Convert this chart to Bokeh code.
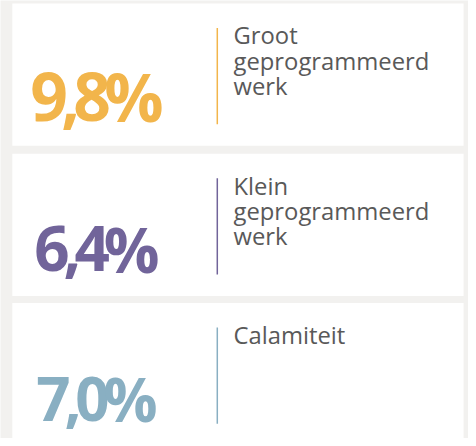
from bokeh.plotting import figure
from bokeh.models import Range1d, ColumnDataSource
from bokeh.core.properties import value
from bokeh.embed import file_html
from bokeh.resources import INLINE

# ---- data ----
values = [9.8, 6.4, 7.0]
labels = [["Groot", "geprogrammeerd", "werk"],
          ["Klein", "geprogrammeerd", "werk"],
          ["Calamiteit"]]
colors = ["#F2B54B", "#71649A", "#89AFC2"]

# ---- style / layout (reference pixel space 476 x 446) ----
REF_W, REF_H = 476, 446
FIG_W, FIG_H = 468, 438
SX = FIG_W / REF_W
SY = REF_H / FIG_H          # data units per screen px (vertical)
BG = "#F2F1EF"
TEXT_COLOR = "#595959"
value_sizes = [67, 63, 61]
card_tops = [3, 156, 308]
CARD_H = 145
CARD_L, CARD_R = 12, 471
NUM_CENTER = 98
NUM_BASE = 120
LINE_X = 220.5
LABEL_X = 237
LABEL_BASE = 41.5
LABEL_LH = 25.8
LABEL_SIZE = 24.2
BASE_SHIFT = 0.37           # text anchor sits this many em above the baseline
# approximate Open Sans Bold advance widths (em) and tight tracking
ADV = {",": 0.28, "%": 0.9}
DIGIT_ADV = 0.572
TRACK = -0.1

p = figure(width=FIG_W, height=FIG_H, x_range=Range1d(0, REF_W), y_range=Range1d(REF_H, 0),
           output_backend="svg", toolbar_location=None, min_border=0,
           x_axis_type=None, y_axis_type=None)
p.grid.visible = False
p.outline_line_color = None
p.background_fill_color = BG
p.border_fill_color = BG

# cards
p.quad(left=[CARD_L] * 3, right=[CARD_R] * 3,
       top=card_tops, bottom=[t + CARD_H for t in card_tops],
       fill_color="white", line_color=None)

# separator lines
p.segment(x0=[LINE_X] * 3, x1=[LINE_X] * 3,
          y0=[t + 25 for t in card_tops], y1=[t + 123 for t in card_tops],
          line_color=colors, line_width=1.5)

# big numbers, drawn char by char for tight tracking
cx, cy, ct, cc, cs = [], [], [], [], []
for v, col, size, top in zip(values, colors, value_sizes, card_tops):
    s = f"{v:.1f}".replace(".", ",") + "%"
    px = size * SX
    advs = [ADV.get(ch, DIGIT_ADV) * size for ch in s]
    total = sum(advs) + TRACK * size * (len(s) - 1)
    x = NUM_CENTER - total / 2
    for ch, a in zip(s, advs):
        cx.append(x)
        cy.append(top + NUM_BASE - BASE_SHIFT * px * SY)
        ct.append(ch)
        cc.append(col)
        cs.append(f"{px:.1f}px")
        x += a + TRACK * size
src = ColumnDataSource(dict(x=cx, y=cy, text=ct, color=cc, size=cs))
p.text(x="x", y="y", text="text", source=src, text_color="color",
       text_font_size="size", text_font=value("Open Sans"), text_font_style="bold",
       text_align="left", text_baseline="alphabetic")

# labels
lpx = LABEL_SIZE * SX
lx, ly, lt = [], [], []
for lab, top in zip(labels, card_tops):
    for i, line in enumerate(lab):
        lx.append(LABEL_X)
        ly.append(top + LABEL_BASE + i * LABEL_LH - BASE_SHIFT * lpx * SY)
        lt.append(line)
p.text(x=lx, y=ly, text=lt, text_color=TEXT_COLOR, text_font_size=f"{lpx:.1f}px",
       text_font=value("Open Sans"), text_align="left", text_baseline="alphabetic")

open("out.html", "w").write(file_html(p, INLINE))
